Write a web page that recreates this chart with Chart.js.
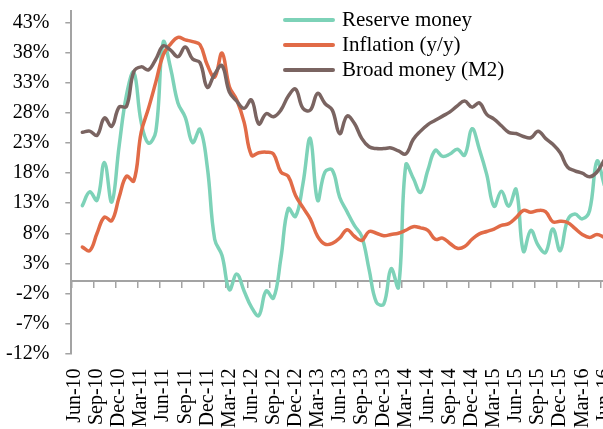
<!DOCTYPE html>
<html>
<head>
<meta charset="utf-8">
<script src="https://cdn.jsdelivr.net/npm/chart.js@4.4.1/dist/chart.umd.min.js"></script>
<style>
  html, body { margin: 0; padding: 0; background: #fff; overflow: hidden; }
  #wrap { position: relative; width: 616px; height: 429px; }
  #legend {
    position: absolute; left: 283px; top: 7px; margin: 0; padding: 0; list-style: none;
    font: 21px 'Liberation Serif', 'Times New Roman', serif; color: #000;
  }
  #legend li { display: flex; align-items: center; height: 25px; white-space: nowrap; }
  #legend .swatch { width: 52px; height: 4px; margin-right: 7px; border-radius: 2px; }
</style>
</head>
<body>
<div id="wrap">
  <canvas id="chart"></canvas>
  <ul id="legend"></ul>
</div>
<script>
const months = [
  'Jun-10', 'Jul-10', 'Aug-10', 'Sep-10', 'Oct-10', 'Nov-10', 'Dec-10',
  'Jan-11', 'Feb-11', 'Mar-11', 'Apr-11', 'May-11', 'Jun-11', 'Jul-11', 'Aug-11', 'Sep-11', 'Oct-11', 'Nov-11', 'Dec-11',
  'Jan-12', 'Feb-12', 'Mar-12', 'Apr-12', 'May-12', 'Jun-12', 'Jul-12', 'Aug-12', 'Sep-12', 'Oct-12', 'Nov-12', 'Dec-12',
  'Jan-13', 'Feb-13', 'Mar-13', 'Apr-13', 'May-13', 'Jun-13', 'Jul-13', 'Aug-13', 'Sep-13', 'Oct-13', 'Nov-13', 'Dec-13',
  'Jan-14', 'Feb-14', 'Mar-14', 'Apr-14', 'May-14', 'Jun-14', 'Jul-14', 'Aug-14', 'Sep-14', 'Oct-14', 'Nov-14', 'Dec-14',
  'Jan-15', 'Feb-15', 'Mar-15', 'Apr-15', 'May-15', 'Jun-15', 'Jul-15', 'Aug-15', 'Sep-15', 'Oct-15', 'Nov-15', 'Dec-15',
  'Jan-16', 'Feb-16', 'Mar-16', 'Apr-16', 'May-16', 'Jun-16'
]

// labels shown on the x axis (quarterly)
const tickLabels = [
  'Jun-10', 'Sep-10', 'Dec-10', 'Mar-11', 'Jun-11', 'Sep-11', 'Dec-11', 'Mar-12', 'Jun-12', 'Sep-12', 'Dec-12',
  'Mar-13', 'Jun-13', 'Sep-13', 'Dec-13', 'Mar-14', 'Jun-14', 'Sep-14', 'Dec-14', 'Mar-15', 'Jun-15', 'Sep-15',
  'Dec-15', 'Mar-16', 'Jun-16'
]

const yTicks = [-12, -7, -2, 3, 8, 13, 18, 23, 28, 33, 38, 43]

const reserveMoney = [
  null, 12.6, 14.9, 13.5, 19.8, 13.2, 22.5,
  31.0, 34.8, 26.5, 23.0, 25.0, 39.8, 35.5, 29.7, 27.3, 23.1, 25.3, 19.0,
  7.0, 4.3, -1.4, 1.2, -1.6, -4.3, -5.7, -1.6, -2.8, 3.8, 12.1, 10.8,
  16.2, 23.8, 13.5, 18.2, 18.5, 14.0, 11.6, 9.3, 7.5, 2.0, -3.5, -3.8,
  2.1, -1.0, 19.4, 17.2, 14.8, 18.5, 21.8, 20.8, 21.2, 22.0, 21.0, 25.4,
  22.0, 17.8, 12.5, 15.0, 12.5, 15.3, 5.0, 8.5, 6.0, 4.8, 8.7, 5.1,
  10.2, 11.2, 10.4, 11.8, 20.0, 16.0
]

const inflation = [
  null, 5.7, 5.1, 8.0, 10.7, 10.1, 14.0,
  17.5, 16.7, 24.8, 28.8, 33.2, 37.7, 39.5, 40.6, 40.2, 39.9, 39.4, 36.0,
  34.0, 38.0, 32.4, 30.2, 26.5, 21.0, 21.4, 21.5, 21.2, 18.2, 17.5, 14.3,
  12.3, 10.4, 7.5, 6.2, 6.3, 7.2, 8.6, 7.5, 6.8, 8.3, 8.0, 7.6,
  7.8, 8.0, 8.5, 9.1, 8.9, 8.5, 7.0, 7.2, 6.3, 5.5, 5.8, 7.0,
  7.9, 8.3, 8.7, 9.3, 9.6, 10.6, 11.8, 11.5, 11.8, 11.6, 9.9, 10.0,
  9.8, 8.8, 7.8, 7.3, 7.8, 7.3
]

const broadMoney = [
  null, 24.8, 25.0, 24.3, 27.2, 25.8, 29.0,
  29.1, 34.9, 35.7, 35.2, 37.0, 39.2, 38.5, 37.4, 39.0, 37.0, 36.4, 32.3,
  34.5, 35.9, 31.5, 30.0, 28.8, 30.2, 26.2, 27.9, 27.4, 28.5, 30.8, 32.0,
  28.8, 28.5, 31.3, 29.6, 28.5, 24.6, 27.5, 26.3, 23.8, 22.4, 22.1, 22.1,
  22.2, 21.7, 21.2, 23.6, 25.0, 26.1, 26.8, 27.5, 28.2, 29.2, 30.0, 29.0,
  29.7, 27.8, 27.0, 25.9, 24.8, 24.6, 24.1, 23.9, 25.0, 23.8, 22.8, 21.4,
  19.0, 18.4, 18.0, 17.4, 18.2, 20.2
]

const axisGrey = '#a3a3a3'
const tickFont = { family: "'Liberation Serif', 'Times New Roman', serif", size: 20 }

// keep the plot area edges where layout.padding puts them;
// Chart.js reserves the tick padding twice, drop the outer copy
function trimScale (scale) {
  scale.paddingLeft = 0
  scale.paddingRight = 0
  scale.paddingTop = 0
  scale.paddingBottom = 0
  if (scale.options.ticks.display) {
    if (scale.isHorizontal()) {
      scale.height -= scale.options.ticks.padding
    } else {
      scale.width -= scale.options.ticks.padding
    }
  }
}

const chart = new Chart(document.getElementById('chart'), {
  type: 'line',
  data: {
    labels: months,
    datasets: [
      { label: 'Reserve money', data: reserveMoney, borderColor: '#7dd2b8', order: 2 },
      { label: 'Inflation (y/y)', data: inflation, borderColor: '#e16b47', order: 1 },
      { label: 'Broad money (M2)', data: broadMoney, borderColor: '#7a6461', order: 0 }
    ]
  },
  options: {
    responsive: true,
    maintainAspectRatio: false,
    animation: false,
    layout: { padding: { left: 6, top: 11, right: 8, bottom: 1 } },
    elements: {
      point: { radius: 0 },
      line: { tension: 0.4, borderWidth: 3.5, borderCapStyle: 'round', borderJoinStyle: 'round' }
    },
    plugins: {
      legend: { display: false },
      tooltip: { enabled: false }
    },
    scales: {
      x: {
        type: 'category',
        offset: true,
        afterFit: trimScale,
        grid: { display: false, drawTicks: false },
        border: { display: false },
        ticks: {
          autoSkip: false,
          minRotation: 90,
          maxRotation: 90,
          padding: 15,
          color: '#000',
          font: tickFont,
          callback: (value, index) => tickLabels.includes(months[index]) ? months[index] : ''
        }
      },
      // axis line crossing at 0% with the quarterly tick marks
      x2: {
        type: 'category',
        position: { y: 0 },
        offset: true,
        afterFit: (scale) => {
          trimScale(scale)
          scale.height = 0
        },
        grid: {
          offset: true,
          drawOnChartArea: false,
          drawTicks: true,
          tickLength: 6,
          lineWidth: 1.5,
          color: (ctx) => tickLabels.includes(months[ctx.index]) ? axisGrey : 'rgba(0,0,0,0)'
        },
        border: { display: true, color: axisGrey, width: 2 },
        ticks: { display: false }
      },
      y: {
        min: -12,
        max: 45,
        afterBuildTicks: (scale) => {
          scale.ticks = yTicks.map(value => ({ value }))
        },
        afterFit: trimScale,
        grid: { drawOnChartArea: false, tickLength: 6, lineWidth: 1.5, color: axisGrey },
        border: { display: true, color: axisGrey, width: 2 },
        ticks: {
          padding: 16,
          color: '#000',
          font: tickFont,
          callback: (value) => `${value}%`
        }
      }
    }
  }
})

// Legend
const $legend = document.getElementById('legend')
chart.data.datasets.forEach(dataset => {
  const $item = document.createElement('li')
  const $swatch = document.createElement('span')
  $swatch.className = 'swatch'
  $swatch.style.background = dataset.borderColor
  $item.appendChild($swatch)
  $item.appendChild(document.createTextNode(dataset.label))
  $legend.appendChild($item)
})
</script>
</body>
</html>
